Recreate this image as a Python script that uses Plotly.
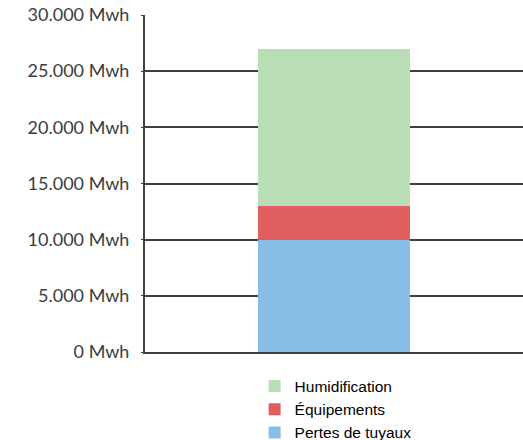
import plotly.graph_objects as go

categories = [""]
series_names = ["Pertes de tuyaux", "Équipements", "Humidification"]
series_values = [[10000], [3000], [14000]]
series_colors = ["#88BDE6", "#E05E60", "#B9DDB5"]
tick_values = [0, 5000, 10000, 15000, 20000, 25000, 30000]
tick_labels = ["0 Mwh", "5.000 Mwh", "10.000 Mwh", "15.000 Mwh",
               "20.000 Mwh", "25.000 Mwh", "30.000 Mwh"]

fig = go.Figure()
for name, vals, color in zip(series_names, series_values, series_colors):
    fig.add_trace(go.Bar(x=categories, y=vals, name=name, marker_color=color,
                         marker_line_width=0, width=0.4))

fig.update_layout(
    barmode="stack",
    width=523, height=440,
    margin=dict(l=145, r=0, t=15, b=88, autoexpand=False),
    paper_bgcolor="white", plot_bgcolor="white",
    showlegend=True,
    legend=dict(traceorder="reversed", orientation="v",
                x=0.29, xanchor="left", y=-0.052, yanchor="top",
                font=dict(family="Liberation Sans, Arial", size=15.5, color="#000000"),
                itemwidth=30, bgcolor="rgba(0,0,0,0)"),
    xaxis=dict(showgrid=False, showticklabels=False, showline=True,
               linecolor="#404040", linewidth=2, ticks="", zeroline=False,
               range=[-0.5, 0.5]),
    yaxis=dict(range=[0, 30000], tickmode="array", tickvals=tick_values,
               ticktext=tick_labels, showgrid=True, gridcolor="#404040",
               gridwidth=1.5, showline=True, linecolor="#404040", linewidth=2,
               ticks="outside", ticklen=2, tickcolor="#404040",
               ticklabelstandoff=8, zeroline=False,
               tickfont=dict(family="Lato, sans-serif", size=18,
                             color="#3C3C3C")),
)

fig.write_html("out.html")
